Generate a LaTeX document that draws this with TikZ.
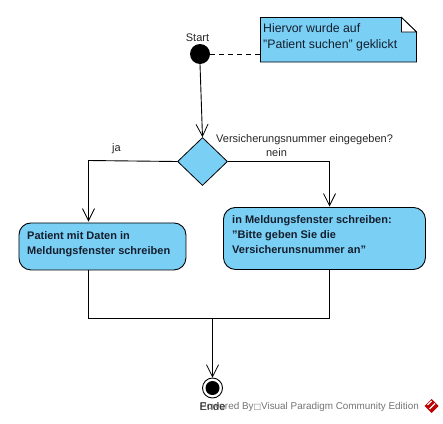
\documentclass[tikz,border=0pt]{standalone}
\usepackage{fontspec}
\setmainfont{Liberation Sans}
\newfontfamily\symfont{DejaVu Sans}
\usetikzlibrary{arrows.meta,shapes.geometric}
\definecolor{fillblue}{RGB}{122,207,245}
\definecolor{inkdark}{RGB}{20,30,45}
\tikzset{
  x=1pt,y=-1pt,
  flow/.style={draw=black,line width=0.9pt},
  arrowline/.style={flow,-{Straight Barb[length=12pt,width=12pt,line width=0.8pt]}},
  actbox/.style={draw=black,line width=0.9pt,fill=fillblue,rounded corners=12pt,anchor=north west,inner sep=0pt},
  boldtext/.style={font=\fontsize{11pt}{15pt}\selectfont\bfseries,text=inkdark,align=left,anchor=west,inner sep=0pt},
  lab/.style={font=\fontsize{11pt}{13pt}\selectfont,text=black!85,inner sep=0pt},
}
\begin{document}
\begin{tikzpicture}
\useasboundingbox (0,0) rectangle (443,423);
% note
\fill[fillblue] (260.5,17.5) -- (401.5,17.5) -- (416.5,32) -- (416.5,62) -- (260.5,62) -- cycle;
\draw[line width=0.9pt] (260.5,17.5) -- (401.5,17.5) -- (416.5,32) -- (416.5,62) -- (260.5,62) -- cycle;
\fill[white] (401.5,17.5) -- (401.5,32) -- (416.5,32) -- cycle;
\draw[line width=0.8pt] (401.5,17.5) -- (401.5,32) -- (416.5,32) -- cycle;
\node[font=\fontsize{12.3pt}{16pt}\selectfont,text=inkdark,align=left,anchor=west,inner sep=0pt] (notetext) at (263,37) {Hiervor wurde auf\\"Patient suchen" geklickt};
\coordinate (noteleft) at (260.5,54);
% start
\node[circle,fill=black,inner sep=0pt,minimum size=20pt] (start) at (200,54) {};
\node[lab] (startlab) at (197.5,38) {Start};
% decision
\node[diamond,draw=black,line width=0.8pt,fill=fillblue,inner sep=0pt,minimum width=50pt,minimum height=48pt] (dec) at (202.5,161.5) {};
\node[lab,anchor=west] (declab) at (216,139.5) {Versicherungsnummer eingegeben?};
\node[lab] (nein) at (276.5,152.5) {nein};
\node[lab] (ja) at (116.5,148.5) {ja};
% actions
\node[actbox,minimum width=167pt,minimum height=47pt] (left) at (18.5,222.5) {};
\node[boldtext] (lefttext) at (27,244.5) {Patient mit Daten in\\Meldungsfenster schreiben};
\node[actbox,minimum width=202pt,minimum height=62pt] (right) at (223,207) {};
\node[boldtext] (righttext) at (232,235) {in Meldungsfenster schreiben:\\"Bitte geben Sie die\\Versicherunsnummer an"};
% end
\node[circle,draw=black,line width=0.9pt,fill=white,inner sep=0pt,minimum size=20pt] (endo) at (212.5,388) {};
\node[circle,fill=black,inner sep=0pt,minimum size=14pt] at (212.5,388) {};
% connectors
\coordinate (cl) at (88.5,160.5);
\coordinate (cr) at (329.5,161.5);
\coordinate (lb) at (88.5,318);
\coordinate (rb) at (329.5,318);
\coordinate (mb) at (212.5,318);
\draw[flow,dashed,dash pattern=on 5pt off 4pt] (start.east) -- (noteleft);
\draw[arrowline] (start.south) -- (dec.north);
\draw[arrowline] (dec.west) -- (cl) -- (88.5,221.5);
\draw[arrowline] (dec.east) -- (cr) -- (329.5,206.5);
\draw[flow] (88.5,269.5) -- (lb) -- (rb) -- (329.5,269);
\draw[arrowline] (mb) -- (endo.north);
% watermark
\node[font=\fontsize{9.9pt}{11pt}\selectfont,text=black!55,anchor=west,inner sep=0pt] (wm) at (200,406.5) {Powered By{\symfont\fontsize{8pt}{9pt}\selectfont □}Visual Paradigm Community Edition};
\node[lab,anchor=west] (endlab) at (199.5,406.5) {Ende};
\fill[red!75!black] (431.5,399) -- (438.5,406) -- (431.5,413) -- (424.5,406) -- cycle;
\draw[white,line width=1.2pt] (427.5,405) -- (431.5,401) (429.5,409) -- (435,403.5);
\end{tikzpicture}
\end{document}
